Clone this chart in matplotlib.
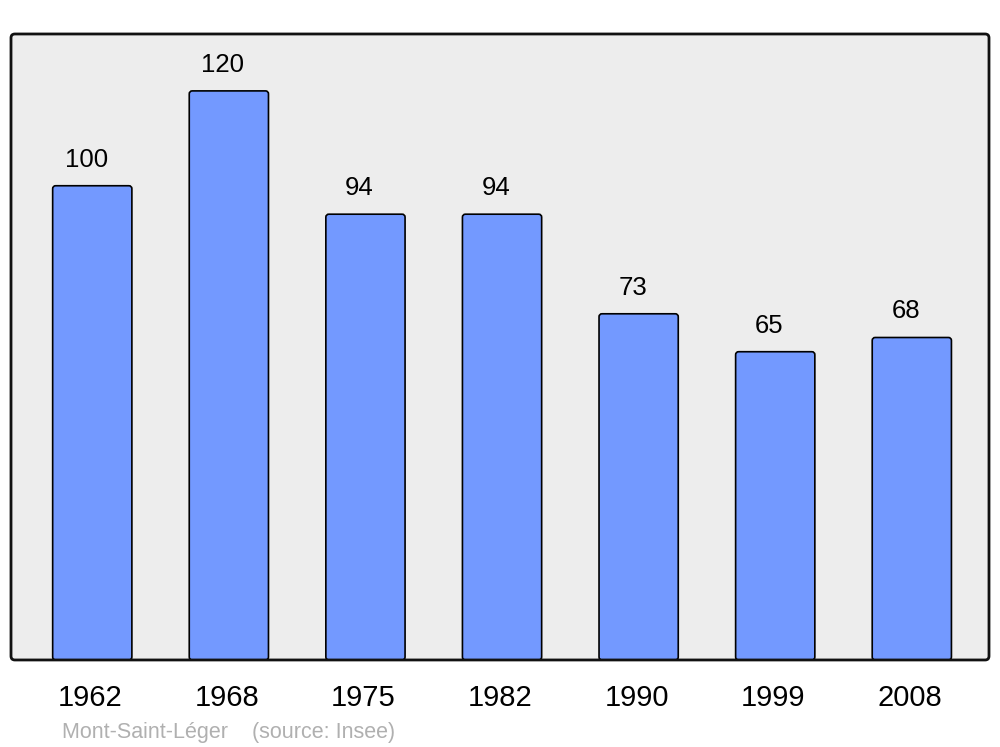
import matplotlib.pyplot as plt
from matplotlib.patches import FancyBboxPatch
import numpy as np

plt.rcParams['font.family'] = ['Liberation Sans', 'DejaVu Sans']

years = ['1962', '1968', '1975', '1982', '1990', '1999', '2008']
population = [100, 120, 94, 94, 73, 65, 68]

fig = plt.figure(figsize=(10, 7.47), dpi=100)
fig.set_facecolor('white')
ax = fig.add_axes([0.011, 0.1165, 0.978, 0.838])
ax.set_facecolor('#ededed')

x = np.arange(len(years))
bars = ax.bar(x, population, width=0.58, color='#7399ff', edgecolor='black',
              linewidth=1.2, zorder=2)

ax.set_xlim(-0.595, 6.565)
ax.set_ylim(0, 132)

# swap the plain rectangles for slightly rounded ones
for b in bars:
    b.set_visible(False)
    rb = FancyBboxPatch((b.get_x(), b.get_y()), b.get_width(), b.get_height(),
                        boxstyle='round,pad=0,rounding_size=0.022',
                        mutation_aspect=28.8, facecolor='#7399ff',
                        edgecolor='black', linewidth=1.2, zorder=2)
    ax.add_patch(rb)

for xi, v in zip(x, population):
    ax.annotate(str(v), (xi, v), xytext=(-6, 26), textcoords='offset pixels',
                ha='center', va='center', fontsize=18.5)

ax.set_xticks(x - 0.015)
ax.set_xticklabels(years, fontsize=21)
ax.tick_params(axis='x', length=0, pad=17)
ax.set_yticks([])
for s in ax.spines.values():
    s.set_visible(False)

frame = FancyBboxPatch((0, 0), 1, 1, transform=ax.transAxes,
                       boxstyle='round,pad=0,rounding_size=0.004',
                       mutation_aspect=1.56, facecolor='none',
                       edgecolor='#111111', linewidth=2, zorder=5,
                       clip_on=False)
ax.add_patch(frame)

fig.text(0.062, 0.019, 'Mont-Saint-Léger    (source: Insee)', fontsize=15.5,
         color='#b0b0b0', ha='left', va='center')

fig.savefig('out.png', dpi=100)
